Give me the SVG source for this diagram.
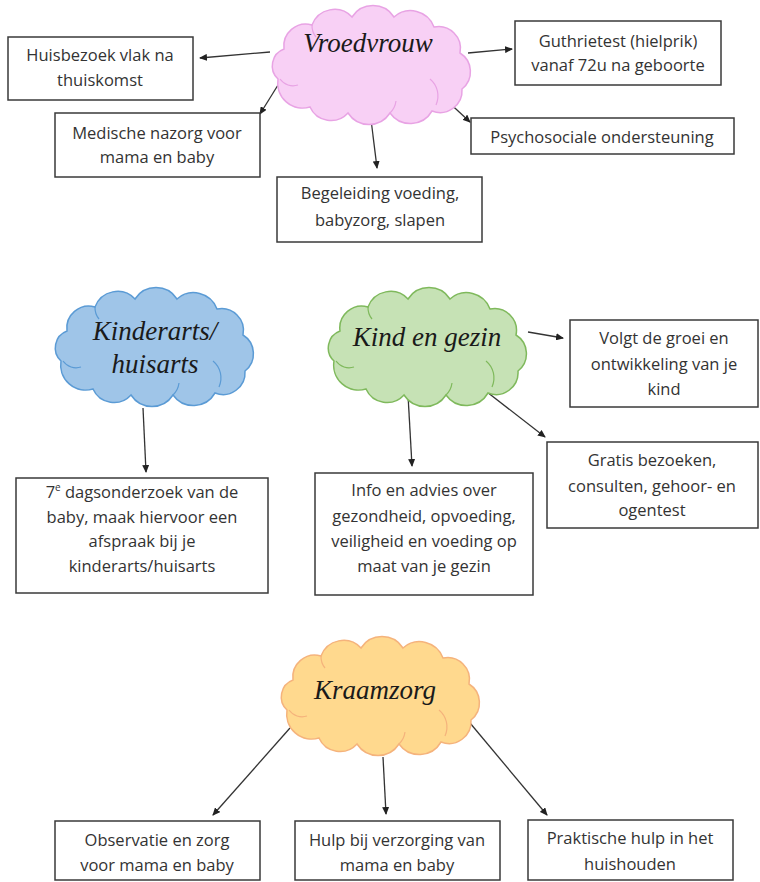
<svg xmlns="http://www.w3.org/2000/svg" xmlns:xlink="http://www.w3.org/1999/xlink" width="760" height="882" viewBox="0 0 760 882">
<style>
.bg{fill:#ffffff}
.box{fill:#ffffff;stroke:#3a3a3a;stroke-width:1.5}
.t{font-family:"Open Sans","Liberation Sans",sans-serif;font-size:16.5px;fill:#333333;text-anchor:middle}
.ct{font-family:"Liberation Serif","DejaVu Serif",serif;font-style:italic;font-size:27px;fill:#1a1a1a;text-anchor:middle}
.pink{fill:#f8d0f5;stroke:#e8a3e4;stroke-width:1.5}
.blue{fill:#9fc5e8;stroke:#5b9bd5;stroke-width:1.5}
.green{fill:#c6e2b5;stroke:#7fb95c;stroke-width:1.5}
.yellow{fill:#ffd98e;stroke:#f5b37c;stroke-width:1.5}
.inner{fill:none;stroke-width:1.2}
.c{stroke:#333333;stroke-width:1.3;fill:none;marker-end:url(#arr)}
</style>
<defs>
<marker id="arr" markerUnits="userSpaceOnUse" markerWidth="8" markerHeight="7" refX="7" refY="3.5" orient="auto">
<path d="M0,0 L8,3.5 L0,7 z" fill="#222222"/>
</marker>
<path id="cloud" d="M6,74 A18 18 0 0 1 12,44 A22 22 0 0 1 40,20 A24 24 0 0 1 80,12 A25 25 0 0 1 122,12 A25 25 0 0 1 162,22 A22 22 0 0 1 188,48 A22 22 0 0 1 190,84 A22 22 0 0 1 160,106 A25 25 0 0 1 118,108 A25 25 0 0 1 76,108 A23 23 0 0 1 38,102 A25 25 0 0 1 6,74 Z"/>
<path id="cloudin" d="M158,74 A22 22 0 0 1 164,100 M8,74 A16 16 0 0 0 26,80 M118,108 A20 20 0 0 0 124,96 M40,20 A18 18 0 0 0 44,32"/>
</defs>
<rect class="bg" x="0" y="0" width="760" height="882"/>

<g id="connectors">
<line class="c" x1="270" y1="52" x2="200" y2="58"/>
<line class="c" x1="283" y1="77" x2="260" y2="114"/>
<line class="c" x1="368" y1="95" x2="377" y2="168"/>
<line class="c" x1="468" y1="53" x2="512" y2="49"/>
<line class="c" x1="430" y1="85" x2="470" y2="122"/>
<line class="c" x1="143" y1="408" x2="146" y2="472"/>
<line class="c" x1="528" y1="332" x2="563" y2="338"/>
<line class="c" x1="408" y1="395" x2="412" y2="466"/>
<line class="c" x1="487" y1="392" x2="545" y2="437"/>
<line class="c" x1="290" y1="728" x2="213" y2="815"/>
<line class="c" x1="383" y1="757" x2="386" y2="814"/>
<line class="c" x1="465" y1="717" x2="547" y2="815"/>
</g>

<g id="vroedvrouw" transform="translate(272,5)">
<use xlink:href="#cloud" class="pink"/>
<use xlink:href="#cloudin" class="pink inner"/>
<text class="ct" x="96" y="47">Vroedvrouw</text>
</g>
<g id="kinderarts" transform="translate(55,287)">
<use xlink:href="#cloud" class="blue"/>
<use xlink:href="#cloudin" class="blue inner"/>
<text class="ct" x="100" y="53">Kinderarts/</text>
<text class="ct" x="100" y="86">huisarts</text>
</g>
<g id="kindengezin" transform="translate(328,287)">
<use xlink:href="#cloud" class="green"/>
<use xlink:href="#cloudin" class="green inner"/>
<text class="ct" x="99" y="59">Kind en gezin</text>
</g>
<g id="kraamzorg" transform="translate(281,636)">
<use xlink:href="#cloud" class="yellow"/>
<use xlink:href="#cloudin" class="yellow inner"/>
<text class="ct" x="94" y="63">Kraamzorg</text>
</g>

<g id="huisbezoek">
<rect class="box" x="8" y="37" width="185" height="63"/>
<text class="t" x="100" y="61">Huisbezoek vlak na</text>
<text class="t" x="100" y="86">thuiskomst</text>
</g>
<g id="medische">
<rect class="box" x="55" y="113" width="205" height="64"/>
<text class="t" x="157" y="139">Medische nazorg voor</text>
<text class="t" x="157" y="163">mama en baby</text>
</g>
<g id="begeleiding">
<rect class="box" x="277" y="177" width="205" height="65"/>
<text class="t" x="380" y="199">Begeleiding voeding,</text>
<text class="t" x="380" y="226">babyzorg, slapen</text>
</g>
<g id="guthrietest">
<rect class="box" x="515" y="21" width="206" height="64"/>
<text class="t" x="618" y="47">Guthrietest (hielprik)</text>
<text class="t" x="618" y="71">vanaf 72u na geboorte</text>
</g>
<g id="psychosociale">
<rect class="box" x="471" y="118" width="263" height="36"/>
<text class="t" x="602" y="143">Psychosociale ondersteuning</text>
</g>
<g id="dagsonderzoek">
<rect class="box" x="16" y="478" width="252" height="115"/>
<text class="t" x="142" y="498">7<tspan font-size="10" dy="-7">e</tspan><tspan dy="7"> dagsonderzoek van de</tspan></text>
<text class="t" x="142" y="523">baby, maak hiervoor een</text>
<text class="t" x="142" y="547">afspraak bij je</text>
<text class="t" x="142" y="572">kinderarts/huisarts</text>
</g>
<g id="info">
<rect class="box" x="315" y="473" width="218" height="122"/>
<text class="t" x="424" y="496">Info en advies over</text>
<text class="t" x="424" y="522">gezondheid, opvoeding,</text>
<text class="t" x="424" y="547">veiligheid en voeding op</text>
<text class="t" x="424" y="572">maat van je gezin</text>
</g>
<g id="volgt">
<rect class="box" x="570" y="320" width="188" height="87"/>
<text class="t" x="664" y="344">Volgt de groei en</text>
<text class="t" x="664" y="370">ontwikkeling van je</text>
<text class="t" x="664" y="395">kind</text>
</g>
<g id="gratis">
<rect class="box" x="547" y="442" width="211" height="86"/>
<text class="t" x="652" y="466">Gratis bezoeken,</text>
<text class="t" x="652" y="492">consulten, gehoor- en</text>
<text class="t" x="652" y="516">ogentest</text>
</g>
<g id="observatie">
<rect class="box" x="55" y="821" width="205" height="59"/>
<text class="t" x="157" y="846">Observatie en zorg</text>
<text class="t" x="157" y="871">voor mama en baby</text>
</g>
<g id="hulp">
<rect class="box" x="295" y="821" width="205" height="59"/>
<text class="t" x="397" y="846">Hulp bij verzorging van</text>
<text class="t" x="397" y="871">mama en baby</text>
</g>
<g id="praktische">
<rect class="box" x="528" y="820" width="205" height="60"/>
<text class="t" x="630" y="844">Praktische hulp in het</text>
<text class="t" x="630" y="870">huishouden</text>
</g>
</svg>
